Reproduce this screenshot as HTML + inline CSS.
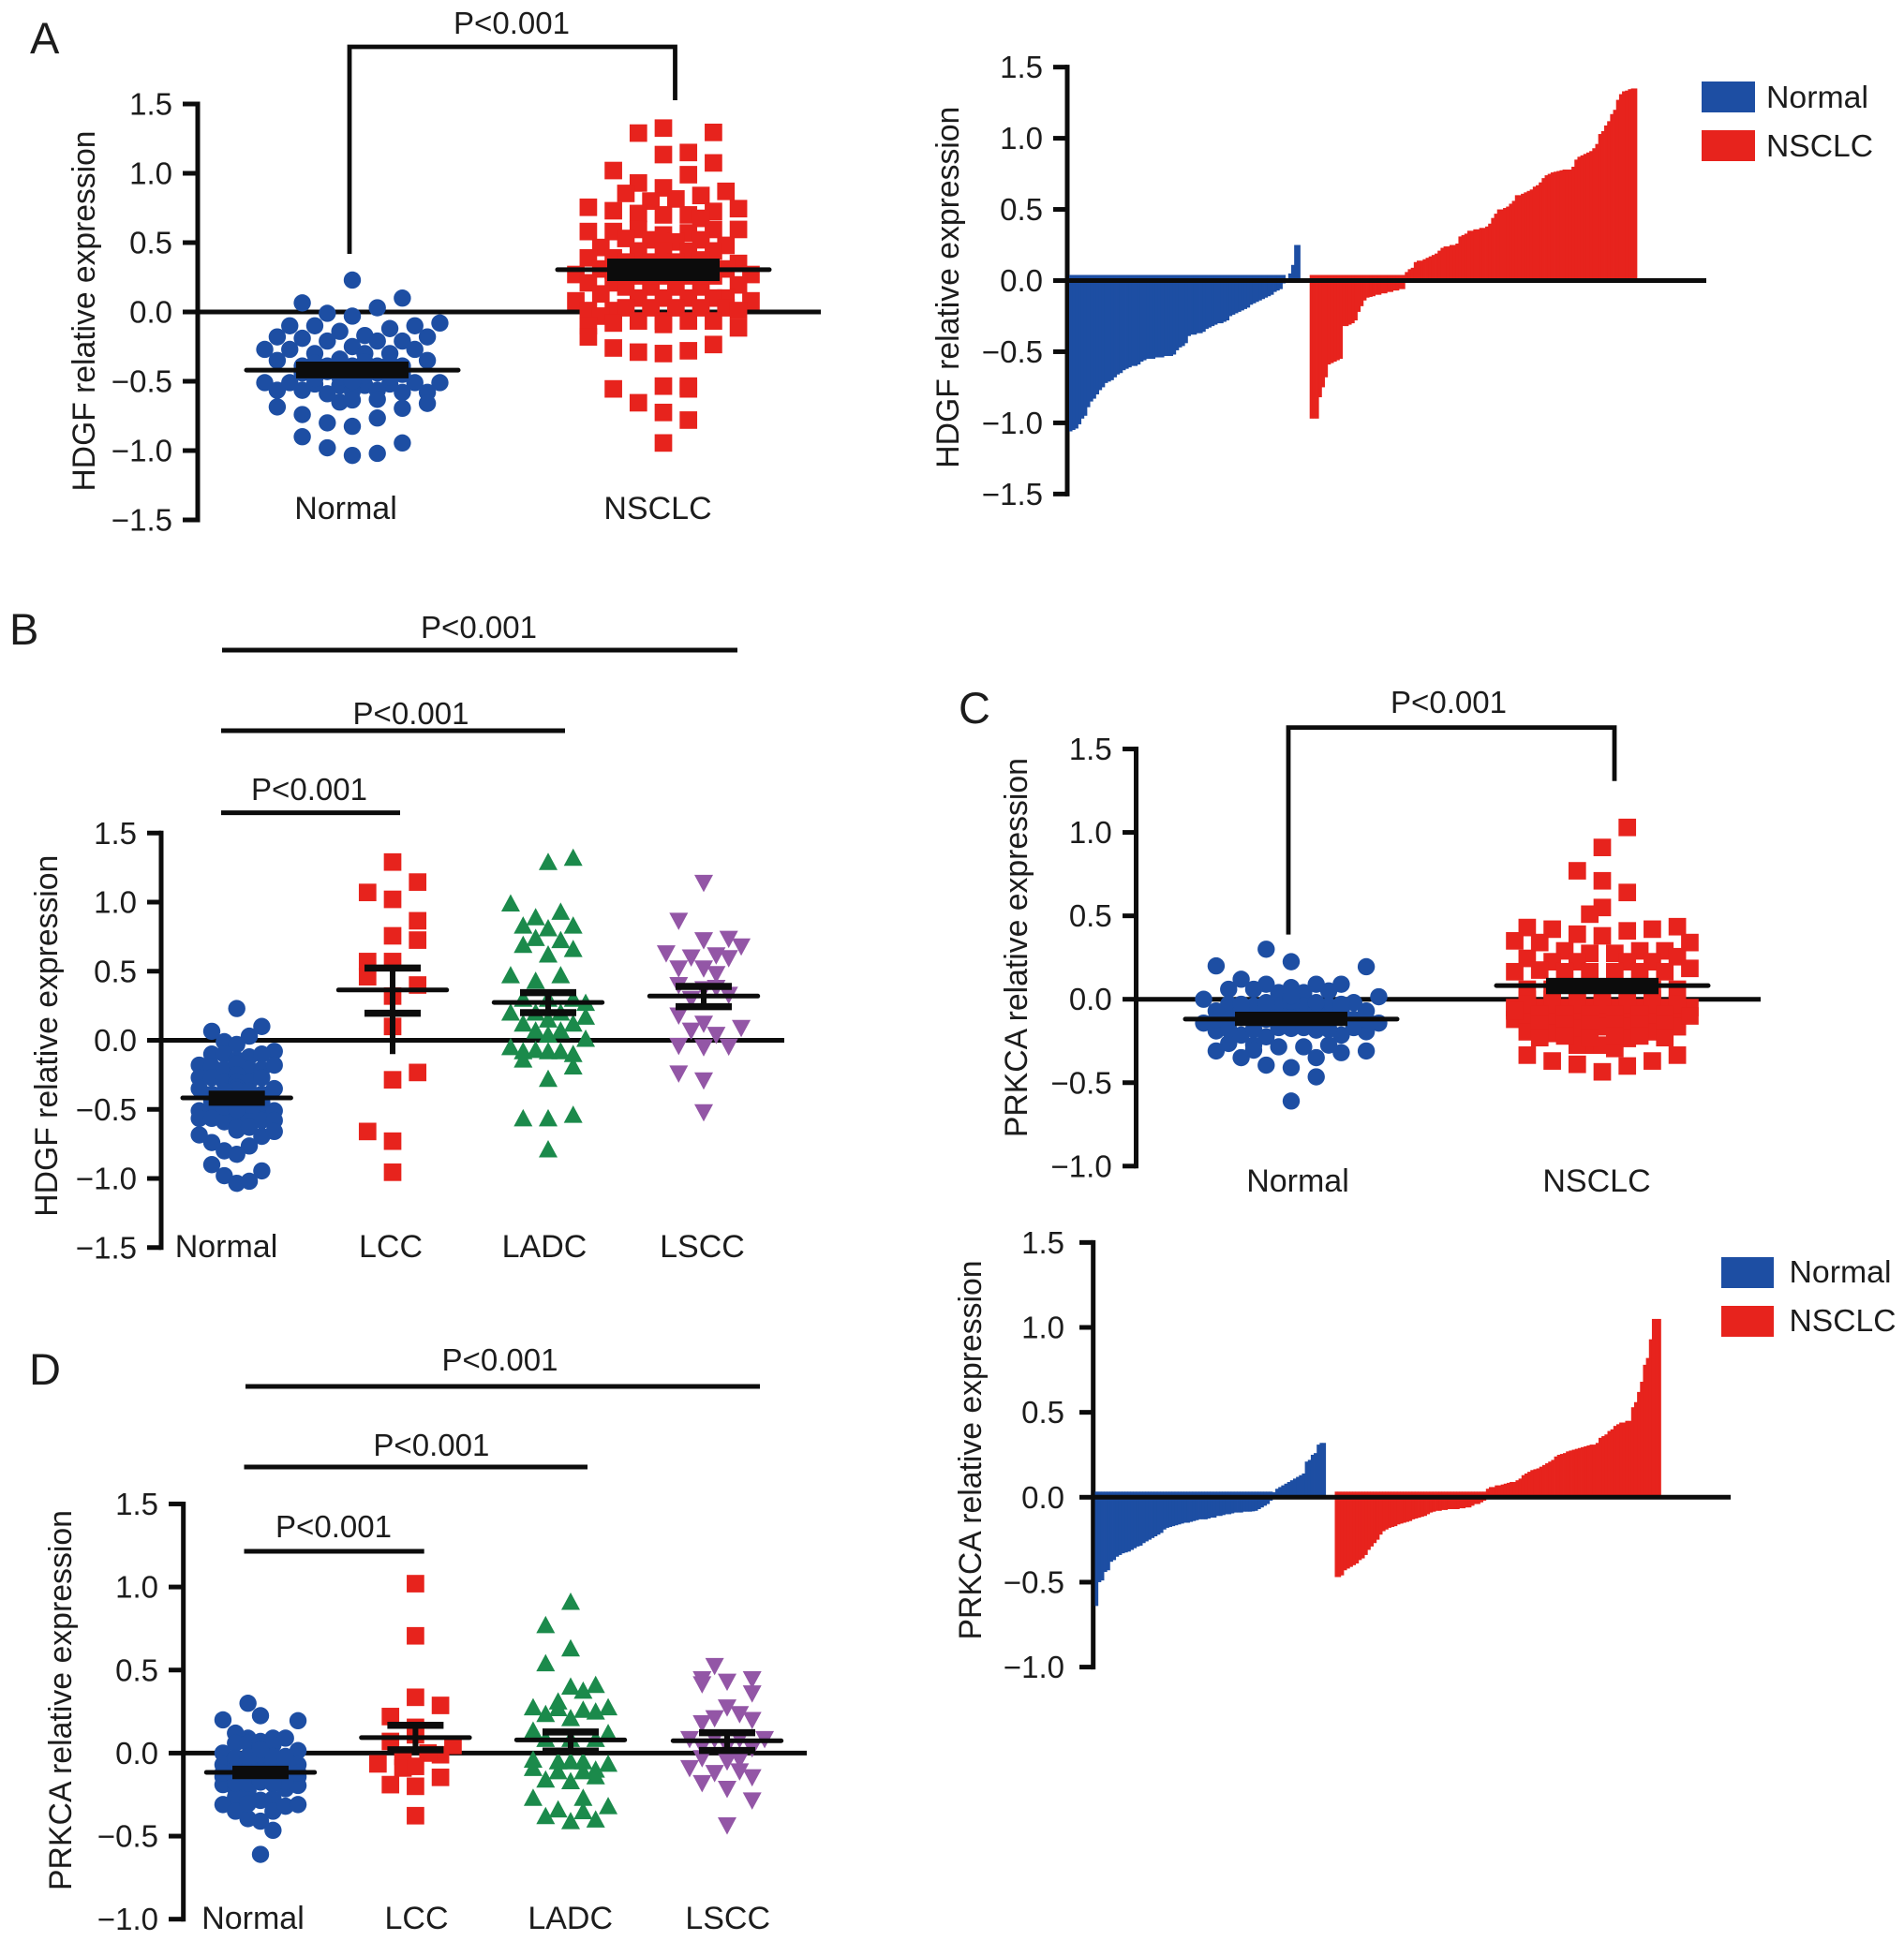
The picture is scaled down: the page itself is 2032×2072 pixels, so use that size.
<!DOCTYPE html>
<html lang="en">
<head>
<meta charset="utf-8">
<title>HDGF and PRKCA relative expression</title>
<style>
html,body{margin:0;padding:0;background:#fff;}
svg{display:block;font-family:"Liberation Sans",Arial,sans-serif;}
</style>
</head>
<body>
<svg id="figure" xmlns="http://www.w3.org/2000/svg" width="2032" height="2072" viewBox="0 0 2032 2072"></svg>
<script>
const hdgfTicks = [-1.5, -1, -0.5, 0, 0.5, 1, 1.5];
const prkcaTicks = [-1, -0.5, 0, 0.5, 1, 1.5];
const twoGroups = ['Normal', 'NSCLC'];
const fourGroups = ['Normal', 'LCC', 'LADC', 'LSCC'];

const hdgfNormalValues = [.23,.065,.10,-.01,.03,-.03,-.08,-.10,-.10,-.14,-.12,-.10,-.18,-.19,-.21,-.17,-.21,-.21,-.18,-.27,-.27,-.30,-.25,-.30,-.30,-.27,-.35,-.34,-.35,-.39,-.39,-.39,-.39,-.39,-.51,-.51,-.52,-.53,-.53,-.52,-.51,-.51,-.565,-.565,-.59,-.57,-.565,-.58,-.58,-.65,-.635,-.63,-.695,-.66,-.685,-.74,-.765,-.80,-.825,-.90,-.945,-.98,-1.035,-1.02,-.44,-.43,-.45,-.44,-.45,-.47,-.46,-.47,-.48,-.37,-.36,-.37,-.37,-.50];
const hdgfNormalSlots = [0,-4,4,-2,2,0,7,-5,-3,-1,3,5,-6,-4,-2,1,2,4,6,-7,-5,-3,0,1,3,5,-6,-1,6,-4,4,-2,2,0,-7,-5,-3,-1,1,3,5,7,-6,-4,-2,0,2,4,6,-1,0,2,4,6,-6,-4,2,-2,0,-4,4,-2,0,2,-4,-2,0,2,4,-1,1,3,-3,-1,1,3,-3,0];
const hdgfNsclcValues = [1.326,1.29,1.295,1.135,1.15,1.075,1.02,.99,.93,.895,.855,.84,.87,.80,.815,.755,.73,.71,.70,.70,.725,.745,.675,.58,.58,.595,.555,.57,.595,.595,.53,.52,.505,.52,.465,.48,.44,.44,.44,.44,.39,.39,.35,.36,.36,.36,.375,.31,.31,.27,.27,.26,.26,.26,.26,.21,.21,.18,.18,.18,.18,.195,.13,.10,.10,.10,.10,.10,.08,.08,.01,.01,.03,.03,.03,.03,.03,.01,-.03,-.065,-.065,-.065,-.065,-.08,-.10,-.115,-.09,-.18,-.235,-.26,-.29,-.30,-.28,-.555,-.535,-.535,-.655,-.725,-.78,-.945,-.555,.32,.31,.31,.31,.30,.26,.26,.26,.26];
const hdgfNsclcSlots = [0,-2,4,0,2,4,-4,2,-2,0,-3,3,5,-1,1,-6,-4,-2,0,2,4,6,3,-6,-4,-2,0,2,4,6,-3,-1,1,3,-5,5,-2,0,2,4,-6,-4,6,-3,-1,1,3,-5,5,-7,7,-2,0,2,4,-6,-4,-3,-1,1,3,6,-5,5,-2,0,2,4,-7,7,-6,-4,-3,-1,1,3,5,6,-5,-2,0,2,4,-4,-6,6,0,-6,4,-4,-2,0,2,-4,0,2,-2,0,2,0,2,-2,0,2,4,-4,-3,-1,1,3];

const prkcaNormalValues = [.30,.225,.20,.195,.12,.09,.09,.09,.06,.06,.07,.04,.04,.05,0,.015,-.02,-.03,-.04,-.04,-.04,-.04,-.07,-.07,-.07,-.07,-.07,-.07,-.07,-.143,-.143,-.12,-.12,-.19,-.215,-.225,-.175,-.185,-.215,-.195,-.265,-.275,-.285,-.285,-.275,-.31,-.35,-.395,-.41,-.35,-.32,-.31,-.465,-.61,-.305,-.11,-.12,-.11,-.12,-.11,-.13,-.14,-.13,-.14,-.18,-.17,-.18,-.17,-.17,-.18,-.03,-.02,-.01,-.02,-.03,-.12,-.12,.02];
const prkcaNormalSlots = [-2,0,-6,6,-4,2,4,-2,-5,-3,0,-1,1,3,-7,7,5,-5,-3,-1,1,3,-6,-4,-2,0,2,4,6,-7,7,5,-5,-6,-4,-2,0,2,4,6,-5,-3,-1,1,3,-6,-4,-2,0,2,4,6,2,0,-3,-4,-2,0,2,4,-3,-1,1,3,-5,5,-3,-1,1,3,-4,-2,0,2,4,-6,6,0];
const prkcaNsclcValues = [1.03,.91,.77,.71,.64,.55,.51,.43,.42,.39,.38,.41,.42,.435,.35,.34,.34,.29,.275,.275,.29,.29,.245,.225,.225,.225,.225,.255,.165,.175,.185,.165,.165,.165,.165,.165,0,0,0,0,0,0,-.05,-.05,-.05,-.05,-.05,-.05,-.05,-.12,-.12,-.12,-.12,-.12,-.12,-.12,-.12,-.195,-.205,-.175,-.165,-.165,-.195,-.165,-.275,-.275,-.275,-.235,-.295,-.335,-.37,-.39,-.435,-.40,-.37,-.335,.06,.06,.06,.06,.06,-.05,-.05,-.03,-.03,-.03,-.03,-.03,-.03,-.03,-.09,-.09,-.09,-.09,-.09,-.09,-.10,-.07,-.15,-.15,-.15,-.15,-.15,-.15,-.22,-.22,-.23,-.23,-.23,-.22];
const prkcaNsclcSlots = [2,0,-2,0,2,0,-1,-6,-4,-2,0,2,4,6,-7,-5,7,-3,-1,1,3,5,-6,-4,-2,2,4,6,-7,-5,7,-3,-1,1,3,5,-6,-4,-2,0,2,4,7,-5,-3,-1,1,3,5,-7,-6,-4,-2,0,2,4,6,-6,-4,-2,0,2,4,6,-1,-2,0,2,1,-6,-4,-2,0,2,4,6,-6,-4,-2,4,6,-7,-1,-6,-4,-2,0,2,4,6,-5,-3,-1,1,3,5,7,-7,-5,-3,-1,1,3,5,-3,3,-1,5,-5,1];

const hdgfLccValues = [1.29,1.145,1.07,1.02,.865,.756,.725,.57,.57,.46,.40,.32,.10,-.233,-.286,-.66,-.73,-.955];
const hdgfLccSlots = [0,2,-2,0,2,0,2,-2,0,-2,2,0,0,2,0,-2,0,0];
const hdgfLadcValues = [1.32,1.29,.99,.89,.93,.83,.81,.83,.74,.725,.69,.66,.62,.47,.47,.43,.30,.30,.30,.27,.20,.20,.20,.17,.12,.15,.12,.07,.07,.04,.01,-.05,-.07,-.08,-.08,-.08,-.10,-.14,-.19,-.28,-.565,-.565,-.54,-.79];
const hdgfLadcSlots = [2,0,-3,-1,1,-2,0,2,-1,1,-2,2,0,-3,1,-1,-2,0,2,3,-3,-1,1,3,-2,0,2,-1,1,0,3,-3,-1,-2,0,1,2,-2,2,0,-2,0,2,0];
const hdgfLsccValues = [1.14,.865,.725,.735,.68,.63,.60,.615,.595,.52,.52,.48,.40,.37,.30,.38,.33,.18,.07,.04,.09,.12,-.04,-.05,-.045,-.24,-.29,-.52];
const hdgfLsccSlots = [0,-2,0,2,3,-3,-1,1,2,-2,0,1,-2,0,-1,1,2,-2,-1,1,3,0,-2,0,2,-2,0,0];

const prkcaLccValues = [1.02,.706,.336,.287,.22,.155,.11,.046,-.01,.07,-.02,-.065,0,-.09,-.08,-.146,-.19,-.2,-.377];
const prkcaLccSlots = [0,0,0,2,-2,0,0,3,2,-2,-1,-3,1,-1,0,2,-2,0,0];
const prkcaLadcValues = [.91,.77,.63,.54,.41,.40,.375,.31,.275,.275,.26,.25,.235,.27,.21,.135,.12,.085,.085,.085,-.04,-.05,-.05,-.05,-.065,-.09,-.10,-.11,-.16,-.17,-.14,-.11,-.27,-.27,-.35,-.32,-.34,-.38,-.41,-.40];
const prkcaLadcSlots = [0,-2,0,-2,2,0,1,-1,-3,3,1,2,-2,-1,0,-3,3,-2,2,0,-3,-1,0,1,3,-3,2,-1,-2,0,2,1,-3,1,1,3,-1,-2,0,2];
const prkcaLsccValues = [.525,.445,.43,.445,.415,.36,.275,.21,.235,.18,.20,.085,.085,.085,.085,.04,.03,-.03,-.09,-.05,-.12,-.11,-.145,-.18,-.215,-.285,-.435,.04,-.04];
const prkcaLsccSlots = [-1,-2,0,2,-2,2,0,-1,1,-2,2,-3,3,-1,1,-2,2,-2,-3,0,-1,1,2,-2,0,2,0,0,1];

const panelASummaryMean = [-.42,.305];
const panelASummaryHigh = [-.392,.351];
const panelASummaryLow = [-.445,.257];
const panelBSummaryMean = [-.417,.364,.274,.32];
const panelBSummaryHigh = [-.39,.523,.345,.39];
const panelBSummaryLow = [-.448,.196,.20,.243];
const panelBStemLow = [-.448,-.10,.20,.243];
const panelCSummaryMean = [-.119,.082];
const panelCSummaryHigh = [-.103,.10];
const panelCSummaryLow = [-.132,.059];
const panelDSummaryMean = [-.116,.093,.079,.074];
const panelDSummaryHigh = [-.097,.167,.127,.123];
const panelDSummaryLow = [-.136,.02,.012,.016];

const hdgfNormalSorted = [-1.06,-1.05,-1.04,-1.01,-.97,-.95,-.89,-.85,-.83,-.80,-.77,-.75,-.72,-.71,-.70,-.68,-.66,-.65,-.63,-.62,-.61,-.60,-.60,-.59,-.57,-.56,-.55,-.55,-.55,-.54,-.54,-.54,-.53,-.53,-.53,-.52,-.49,-.47,-.46,-.44,-.39,-.38,-.38,-.37,-.37,-.36,-.34,-.33,-.32,-.31,-.30,-.30,-.29,-.28,-.25,-.24,-.23,-.22,-.21,-.20,-.19,-.17,-.16,-.15,-.14,-.13,-.12,-.11,-.10,-.08,-.07,-.06,-.02,.01,.05,.11,.25,.25];
const hdgfNsclcSorted = [-.97,-.97,-.97,-.82,-.75,-.68,-.59,-.58,-.57,-.56,-.55,-.32,-.32,-.31,-.30,-.28,-.22,-.18,-.14,-.12,-.115,-.11,-.10,-.10,-.09,-.09,-.08,-.08,-.07,-.07,-.06,-.06,.06,.08,.09,.13,.14,.14,.15,.16,.17,.18,.19,.21,.23,.24,.24,.25,.25,.26,.31,.32,.33,.35,.35,.36,.36,.37,.37,.38,.40,.44,.47,.50,.50,.51,.52,.54,.56,.60,.60,.61,.62,.63,.64,.66,.67,.69,.72,.74,.75,.76,.765,.77,.775,.78,.78,.78,.80,.85,.87,.88,.89,.90,.91,.93,.96,1.03,1.05,1.09,1.12,1.17,1.20,1.27,1.31,1.33,1.335,1.345,1.35,1.35];
const prkcaNormalSorted = [-.64,-.50,-.49,-.44,-.43,-.38,-.37,-.35,-.34,-.33,-.325,-.32,-.31,-.30,-.29,-.285,-.27,-.26,-.25,-.24,-.23,-.22,-.21,-.19,-.18,-.175,-.17,-.165,-.16,-.155,-.15,-.15,-.145,-.14,-.135,-.13,-.13,-.13,-.125,-.12,-.12,-.11,-.11,-.105,-.10,-.10,-.095,-.09,-.09,-.09,-.085,-.085,-.085,-.083,-.08,-.07,-.06,-.05,-.04,-.02,.03,.05,.06,.07,.08,.09,.10,.11,.12,.13,.14,.21,.22,.25,.26,.31,.32,.32];
const prkcaNsclcSorted = [-.47,-.47,-.46,-.43,-.42,-.41,-.40,-.39,-.37,-.36,-.34,-.31,-.29,-.27,-.25,-.22,-.20,-.19,-.18,-.175,-.17,-.16,-.155,-.15,-.145,-.14,-.13,-.125,-.12,-.115,-.11,-.10,-.09,-.085,-.08,-.08,-.075,-.075,-.07,-.07,-.07,-.07,-.065,-.065,-.06,-.06,-.05,-.04,-.04,-.03,-.02,.05,.06,.06,.07,.07,.075,.08,.085,.09,.09,.10,.11,.13,.14,.15,.16,.165,.17,.18,.19,.20,.21,.22,.24,.25,.255,.26,.27,.275,.28,.285,.29,.295,.30,.305,.31,.31,.32,.35,.36,.37,.39,.40,.42,.43,.44,.44,.45,.45,.53,.56,.62,.68,.78,.82,.93,1.05,1.05,1.05];

const BLUE = '#1d4ea3', RED = '#e7231d', GREEN = '#1b8a4b', PURPLE = '#9356a6', INK = '#0c0c0c';
const NS = 'http://www.w3.org/2000/svg';
const svg = document.getElementById('figure');

function make(tag, attrs, parent) {
  const node = document.createElementNS(NS, tag);
  for (const key in attrs) node.setAttribute(key, attrs[key]);
  parent.appendChild(node);
  return node;
}
function tickText(v) {
  return (v < 0 ? '\u2212' : '') + Math.abs(v).toFixed(1);
}
function line(parent, x1, y1, x2, y2, w) {
  return make('line', {x1: x1, y1: y1, x2: x2, y2: y2, stroke: INK, 'stroke-width': w}, parent);
}
function label(parent, x, y, str, size, len, anchor) {
  const attrs = {x: x, y: y, 'font-size': size, fill: '#1c1c1c', 'text-anchor': anchor || 'middle'};
  if (len) { attrs.textLength = len; attrs.lengthAdjust = 'spacingAndGlyphs'; }
  const t = make('text', attrs, parent);
  t.textContent = str;
  return t;
}
function panelGroup(name) {
  const g = make('g', {}, svg);
  
  
  return g;
}
function yAxis(g, a) {
  const scale = v => a.zero - v * a.unit;
  const top = scale(a.ticks[a.ticks.length - 1]);
  const bottom = scale(a.ticks[0]);
  const axis = line(g, a.x, top - 2.5, a.x, bottom + 2.5, 5);
  
  
  a.ticks.forEach(v => {
    const tk = line(g, a.tickLeft, scale(v), a.x, scale(v), 5);
    
    
    const tl = label(g, a.labelRight, scale(v) + 11.5, tickText(v), 33, 0, 'end');
    
    
  });
  const title = label(g, 0, 0, a.title, 34, a.titleLen);
  title.setAttribute('transform', 'translate(' + a.titleX + ' ' + a.titleY + ') rotate(-90)');
  
  
  return scale;
}
function zeroLine(g, x1, x2, y, w) {
  const z = line(g, x1, y, x2, y, w);
  
  
}
function swarm(g, name, values, slots, cx, slotScale, shape, color, scale) {
  const slotWidth = 13.35;
  values.forEach((v, i) => {
    const x = cx + Math.round(slots[i] * slotScale) * slotWidth;
    const y = scale(v);
    let m;
    if (shape === 'circle') m = make('circle', {cx: x, cy: y, r: 9.2, fill: color}, g);
    else if (shape === 'square') m = make('rect', {x: x - 9.35, y: y - 9.35, width: 18.7, height: 18.7, fill: color}, g);
    else if (shape === 'up') m = make('polygon', {points: (x - 10) + ',' + (y + 8.5) + ' ' + (x + 10) + ',' + (y + 8.5) + ' ' + x + ',' + (y - 10), fill: color}, g);
    else m = make('polygon', {points: (x - 10) + ',' + (y - 8.5) + ' ' + (x + 10) + ',' + (y - 8.5) + ' ' + x + ',' + (y + 10), fill: color}, g);
    
    
  });
}
function summary(g, cx, mean, high, low, stemLow, scale, lineHalf, capHalf, capWidth) {
  const st = line(g, cx, scale(high), cx, scale(stemLow), 6);
  
  
  const hi = line(g, cx - capHalf, scale(high), cx + capHalf, scale(high), capWidth);
  
  
  const lo = line(g, cx - capHalf, scale(low), cx + capHalf, scale(low), capWidth);
  
  
  const mn = make('line', {x1: cx - lineHalf, y1: scale(mean), x2: cx + lineHalf, y2: scale(mean), stroke: INK, 'stroke-width': 5, 'stroke-linecap': 'round'}, g);
  
  
}
function bars(g, name, values, x0, w, color, scale) {
  const base = scale(0);
  values.forEach((v, i) => {
    const y = scale(v);
    const top = v < 0 ? base - 6 : y;
    const bottom = v < 0 ? y : base;
    const b = make('rect', {x: x0 + i * w, y: top, width: w + 0.4, height: bottom - top, fill: color}, g);
    
    
  });
}
function legendEntry(g, x, y, w, h, color, str, tx, ty, len) {
  const s = make('rect', {x: x, y: y, width: w, height: h, fill: color}, g);
  
  
  const t = label(g, tx, ty, str, 33, len, 'start');
  
  
}
function sigBar(g, x1, x2, y, tx, ty) {
  const l = line(g, x1, y, x2, y, 5);
  
  
  const t = label(g, tx, ty, 'P<0.001', 33, 124);
  
  
}
function bracket(g, xl, xr, top, yl, yr, tx, ty) {
  const p = make('polyline', {points: xl + ',' + yl + ' ' + xl + ',' + top + ' ' + xr + ',' + top + ' ' + xr + ',' + yr, fill: 'none', stroke: INK, 'stroke-width': 4.8}, g);
  
  
  const t = label(g, tx, ty, 'P<0.001', 33, 124);
  
  
}
function letter(g, x, y, str) {
  const t = label(g, x, y, str, 47, 0, 'start');
  
  
}
function categoryLabels(g, names, xs, y) {
  names.forEach((n, i) => {
    const t = label(g, xs[i], y, n, 34, 0);
    
    
  });
}

/* Panel A scatter */
const gA = panelGroup('panel-a-scatter');
letter(gA, 32, 57, 'A');
const yA = yAxis(gA, {x: 211, zero: 333, unit: 148, ticks: hdgfTicks, tickLeft: 195, labelRight: 184, title: 'HDGF relative expression', titleX: 101, titleY: 332, titleLen: 385});
zeroLine(gA, 211, 876, 333, 5);
swarm(gA, 'normal-point', hdgfNormalValues, hdgfNormalSlots, 376, 1, 'circle', BLUE, yA);
swarm(gA, 'nsclc-point', hdgfNsclcValues, hdgfNsclcSlots, 708, 1, 'square', RED, yA);
[376, 708].forEach((c, i) => {
  summary(gA, c, panelASummaryMean[i], panelASummaryHigh[i], panelASummaryLow[i], panelASummaryLow[i], yA, 113, 60, 10);
});
categoryLabels(gA, twoGroups, [369, 702], 554);
bracket(gA, 373, 720.5, 50, 271, 107, 546, 36);

/* Panel A waterfall */
const gA2 = panelGroup('panel-a-waterfall');
const yA2 = yAxis(gA2, {x: 1139, zero: 299.5, unit: 151.9, ticks: hdgfTicks, tickLeft: 1124, labelRight: 1113, title: 'HDGF relative expression', titleX: 1023, titleY: 306.7, titleLen: 386});
bars(gA2, 'normal-bar', hdgfNormalSorted, 1141, 3.16, BLUE, yA2);
bars(gA2, 'nsclc-bar', hdgfNsclcSorted, 1397.7, 3.175, RED, yA2);
zeroLine(gA2, 1139, 1821, 299.5, 5);
legendEntry(gA2, 1816, 87, 57, 33, BLUE, 'Normal', 1885, 115, 109);
legendEntry(gA2, 1816, 139, 57, 33, RED, 'NSCLC', 1885, 167, 114);

/* Panel B */
const gB = panelGroup('panel-b-scatter');
letter(gB, 10, 688, 'B');
const yB = yAxis(gB, {x: 172, zero: 1110.5, unit: 147.5, ticks: hdgfTicks, tickLeft: 157, labelRight: 146, title: 'HDGF relative expression', titleX: 61, titleY: 1105.7, titleLen: 386});
zeroLine(gB, 172, 837, 1110.5, 5);
const bCenters = [252.7, 419, 585, 751];
swarm(gB, 'normal-point', hdgfNormalValues, hdgfNormalSlots, bCenters[0], 0.45, 'circle', BLUE, yB);
swarm(gB, 'lcc-point', hdgfLccValues, hdgfLccSlots, bCenters[1], 1, 'square', RED, yB);
swarm(gB, 'ladc-point', hdgfLadcValues, hdgfLadcSlots, bCenters[2], 1, 'up', GREEN, yB);
swarm(gB, 'lscc-point', hdgfLsccValues, hdgfLsccSlots, bCenters[3], 1, 'down', PURPLE, yB);
bCenters.forEach((c, i) => {
  summary(gB, c, panelBSummaryMean[i], panelBSummaryHigh[i], panelBSummaryLow[i], panelBStemLow[i], yB, 57.7, 30, 7.5);
});
categoryLabels(gB, fourGroups, [241.5, 417, 581, 749.5], 1342);
sigBar(gB, 237, 787, 694, 511, 681);
sigBar(gB, 236, 603, 780, 438.5, 773);
sigBar(gB, 236, 427, 867.6, 330, 854);

/* Panel C scatter */
const gC = panelGroup('panel-c-scatter');
letter(gC, 1023, 772, 'C');
const yC = yAxis(gC, {x: 1212.5, zero: 1066.7, unit: 178.1, ticks: prkcaTicks, tickLeft: 1198, labelRight: 1186.7, title: 'PRKCA relative expression', titleX: 1096, titleY: 1011.6, titleLen: 405});
zeroLine(gC, 1212, 1879, 1066.7, 5);
swarm(gC, 'normal-point', prkcaNormalValues, prkcaNormalSlots, 1378, 1, 'circle', BLUE, yC);
swarm(gC, 'nsclc-point', prkcaNsclcValues, prkcaNsclcSlots, 1710, 1, 'square', RED, yC);
[1378, 1710].forEach((c, i) => {
  summary(gC, c, panelCSummaryMean[i], panelCSummaryHigh[i], panelCSummaryLow[i], panelCSummaryLow[i], yC, 113, 60, 10);
});
categoryLabels(gC, twoGroups, [1385, 1704], 1272);
bracket(gC, 1375, 1723, 776.6, 997.6, 833.7, 1546, 761);

/* Panel C waterfall */
const gC2 = panelGroup('panel-c-waterfall');
const yC2 = yAxis(gC2, {x: 1166.7, zero: 1598.3, unit: 181.3, ticks: prkcaTicks, tickLeft: 1152, labelRight: 1136, title: 'PRKCA relative expression', titleX: 1047, titleY: 1548, titleLen: 405});
bars(gC2, 'normal-bar', prkcaNormalSorted, 1168.6, 3.155, BLUE, yC2);
bars(gC2, 'nsclc-bar', prkcaNsclcSorted, 1424.5, 3.163, RED, yC2);
zeroLine(gC2, 1166, 1847, 1598.3, 5);
legendEntry(gC2, 1837, 1342, 56, 33, BLUE, 'Normal', 1909.5, 1369, 109);
legendEntry(gC2, 1837, 1394, 56, 33, RED, 'NSCLC', 1909.5, 1421, 114);

/* Panel D */
const gD = panelGroup('panel-d-scatter');
letter(gD, 31, 1478, 'D');
const yD = yAxis(gD, {x: 195.7, zero: 1871.4, unit: 177.3, ticks: prkcaTicks, tickLeft: 180, labelRight: 169, title: 'PRKCA relative expression', titleX: 76, titleY: 1815, titleLen: 406});
zeroLine(gD, 196, 861, 1871.4, 5);
const dCenters = [278, 443.4, 609, 776];
swarm(gD, 'normal-point', prkcaNormalValues, prkcaNormalSlots, dCenters[0], 0.45, 'circle', BLUE, yD);
swarm(gD, 'lcc-point', prkcaLccValues, prkcaLccSlots, dCenters[1], 1, 'square', RED, yD);
swarm(gD, 'ladc-point', prkcaLadcValues, prkcaLadcSlots, dCenters[2], 1, 'up', GREEN, yD);
swarm(gD, 'lscc-point', prkcaLsccValues, prkcaLsccSlots, dCenters[3], 1, 'down', PURPLE, yD);
dCenters.forEach((c, i) => {
  summary(gD, c, panelDSummaryMean[i], panelDSummaryHigh[i], panelDSummaryLow[i], panelDSummaryLow[i], yD, 57.7, 30, 7.5);
});
categoryLabels(gD, fourGroups, [270, 444.5, 608.7, 776.7], 2059);
sigBar(gD, 262, 811, 1480, 533.5, 1463);
sigBar(gD, 260.5, 627, 1566, 460.4, 1554);
sigBar(gD, 260.5, 452.7, 1656, 356, 1641);
</script>
</body>
</html>
